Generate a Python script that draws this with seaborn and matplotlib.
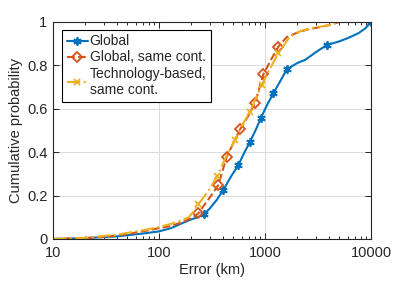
import pandas as pd
import matplotlib
matplotlib.use("Agg")
import matplotlib.pyplot as plt
import seaborn as sns

# CDF-Kurven
global_err = [10, 20, 40, 70, 100, 130, 160, 196, 230, 265, 300, 350, 404, 480, 560,
              640, 721, 820, 916, 1050, 1197, 1400, 1603, 2000, 2384, 3000, 3819,
              4915, 6000, 7590, 8800, 10000]
global_cdf = [0, 0.004, 0.012, 0.025, 0.035, 0.05, 0.07, 0.088, 0.1, 0.113, 0.14, 0.18,
              0.226, 0.29, 0.341, 0.40, 0.448, 0.505, 0.559, 0.62, 0.671, 0.73, 0.782,
              0.81, 0.825, 0.86, 0.894, 0.909, 0.925, 0.948, 0.97, 1.0]
global_marks = [9, 12, 14, 16, 18, 20, 22, 26, 31]

same_err = [10, 20, 40, 70, 100, 130, 160, 190, 215, 235, 270, 310, 362, 435, 500,
            581, 700, 805, 964, 1150, 1334, 1600, 2000, 2500, 3200, 4000, 5000, 10000]
same_cdf = [0, 0.004, 0.015, 0.035, 0.05, 0.06, 0.075, 0.09, 0.105, 0.118, 0.16, 0.2,
            0.249, 0.379, 0.44, 0.505, 0.57, 0.628, 0.759, 0.83, 0.886, 0.93, 0.95,
            0.965, 0.975, 0.985, 1.0, 1.0]
same_marks = [9, 12, 13, 15, 17, 18, 20]

tech_err = [10, 20, 40, 70, 100, 130, 160, 190, 215, 235, 290, 355, 420, 521, 600,
            721, 931, 1100, 1334, 1700, 2200, 3000, 4000, 5000, 10000]
tech_cdf = [0, 0.005, 0.02, 0.04, 0.055, 0.07, 0.085, 0.1, 0.13, 0.16, 0.22, 0.29,
            0.37, 0.456, 0.52, 0.587, 0.71, 0.78, 0.856, 0.93, 0.96, 0.975, 0.985,
            1.0, 1.0]
tech_marks = [9, 11, 13, 15, 16, 18]

labels = ["Global", "Global, same cont.", "Technology-based,\nsame cont."]
x_ticks = [10, 100, 1000, 10000]
y_ticks = [0, 0.2, 0.4, 0.6, 0.8, 1]

sns.set_style("ticks")
plt.rcParams["font.family"] = ["Liberation Sans", "DejaVu Sans"]
plt.rcParams["font.size"] = 10

fig = plt.figure(figsize=(4.11, 2.81), dpi=100)
ax = fig.add_axes([0.129, 0.1495, 0.774, 0.7725])
ax.set_xscale("log")

series = [
    (global_err, global_cdf, global_marks, "#0072BD", "-", (6, 2, 0), {}),
    (same_err, same_cdf, same_marks, "#D95319", "--", "D",
     {"markerfacecolor": "none", "markersize": 5}),
    (tech_err, tech_cdf, tech_marks, "#EDB120", "-.", "x", {"markersize": 5}),
]

for (xs, ys, marks, col, ls, mk, extra), lab in zip(series, labels):
    df = pd.DataFrame({"err": xs, "cdf": ys})
    kw = {"markersize": 6, "markeredgewidth": 1.3, "markeredgecolor": col}
    kw.update(extra)
    sns.lineplot(data=df, x="err", y="cdf", ax=ax, color=col, linestyle=ls,
                 marker=mk, markevery=marks, linewidth=1.5, estimator=None,
                 sort=False, label=lab, **kw)

ax.set_xlim(10, 10000)
ax.set_ylim(0, 1)
ax.set_xticks(x_ticks)
ax.set_xticklabels([str(t) for t in x_ticks])
ax.set_yticks(y_ticks)
ax.set_yticklabels(["0", "0.2", "0.4", "0.6", "0.8", "1"])
ax.grid(True, which="major", color="#dcdcdc", linewidth=0.8)
ax.set_axisbelow(True)
ax.tick_params(which="both", direction="in", top=True, right=True, labelsize=10.5,
               width=0.7, color="#262626", labelcolor="#262626")
ax.tick_params(which="major", length=4)
ax.tick_params(which="minor", length=2.2)
ax.tick_params(axis="x", pad=5)
ax.tick_params(axis="y", pad=4)
for sp in ax.spines.values():
    sp.set_linewidth(0.8)
    sp.set_color("#262626")

ax.set_xlabel("Error (km)", fontsize=10.5, labelpad=2, color="#262626")
ax.set_ylabel("Cumulative probability", fontsize=10.5, labelpad=3, color="#262626")

leg = ax.legend(loc="upper left", bbox_to_anchor=(0.028, 0.965), fontsize=10,
                frameon=True, fancybox=False, edgecolor="black", framealpha=1,
                handlelength=1.5, handletextpad=0.15, labelspacing=0.15,
                borderpad=0.35, borderaxespad=0)
leg.get_frame().set_linewidth(0.8)

fig.savefig("out.png", dpi=100)
